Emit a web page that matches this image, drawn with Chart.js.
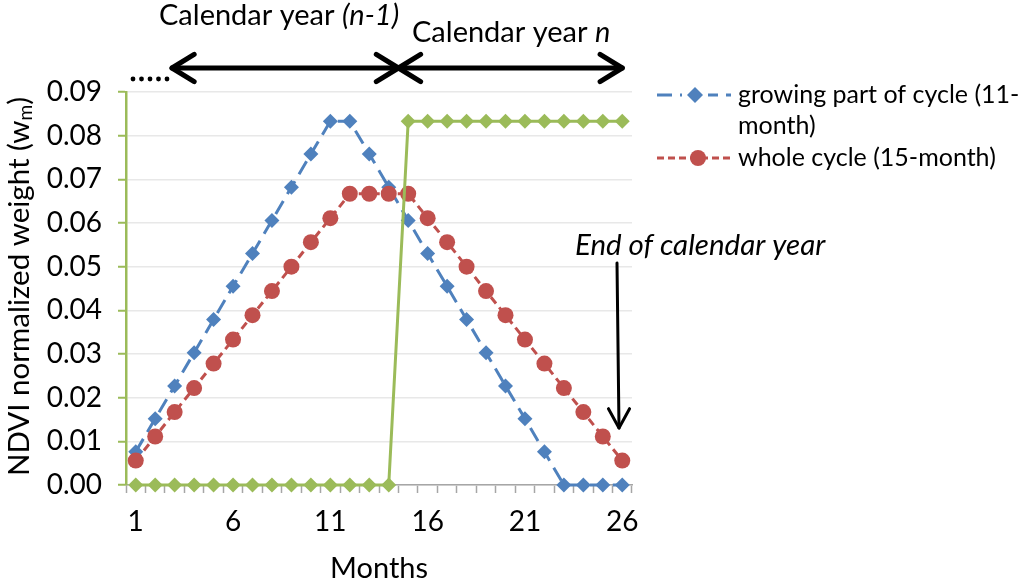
<!DOCTYPE html>
<html>
<head>
<meta charset="utf-8">
<script src="https://cdn.jsdelivr.net/npm/chart.js@4/dist/chart.umd.min.js"></script>
<style>
html, body { margin: 0; padding: 0; background: #fff; }
</style>
</head>
<body>
<canvas id="chart" width="1024" height="583"></canvas>
<script>
const months = ['1','2','3','4','5','6','7','8','9','10','11','12','13','14','15','16','17','18','19','20','21','22','23','24','25','26'];
const growingCycle = [0.0076, 0.0152, 0.0227, 0.0303, 0.0379, 0.0455, 0.0530, 0.0606, 0.0682, 0.0758, 0.0833, 0.0833, 0.0758, 0.0682, 0.0606, 0.0530, 0.0455, 0.0379, 0.0303, 0.0227, 0.0152, 0.0076, 0, 0, 0, 0];
const wholeCycle = [0.0056, 0.0111, 0.0167, 0.0222, 0.0278, 0.0333, 0.0389, 0.0444, 0.0500, 0.0556, 0.0611, 0.0667, 0.0667, 0.0667, 0.0667, 0.0611, 0.0556, 0.0500, 0.0444, 0.0389, 0.0333, 0.0278, 0.0222, 0.0167, 0.0111, 0.0056];
const calendarYear = [0, 0, 0, 0, 0, 0, 0, 0, 0, 0, 0, 0, 0, 0, 0.0833, 0.0833, 0.0833, 0.0833, 0.0833, 0.0833, 0.0833, 0.0833, 0.0833, 0.0833, 0.0833, 0.0833];
const legendLabels = [['growing part of cycle (11-', 'month)'], ['whole cycle (15-month)']];

const FONT = 'Lato, "Open Sans", sans-serif';
const BLUE = '#4F81BD', RED = '#C0504D', GREEN = '#9BBB59';
Chart.defaults.font.family = FONT;
Chart.defaults.color = '#000';

function arrowHead(ctx, x, y, angle, len, spread) {
    ctx.beginPath();
    ctx.moveTo(x + len * Math.cos(angle + spread), y + len * Math.sin(angle + spread));
    ctx.lineTo(x, y);
    ctx.lineTo(x + len * Math.cos(angle - spread), y + len * Math.sin(angle - spread));
    ctx.stroke();
}

// titles, legend and the calendar-year notes
const extras = {
    id: 'extras',
    afterDraw(chart) {
        const ctx = chart.ctx;
        const area = chart.chartArea;
        const xs = chart.scales.x;
        ctx.save();
        ctx.fillStyle = '#000';
        ctx.strokeStyle = '#000';
        ctx.lineCap = 'round';
        ctx.lineJoin = 'round';

        // y title with subscript
        ctx.save();
        ctx.translate(19, (area.top + area.bottom) / 2 - 2);
        ctx.rotate(-Math.PI / 2);
        ctx.textBaseline = 'middle';
        const main = 'NDVI normalized weight (w';
        ctx.font = '29.5px ' + FONT;
        const w1 = ctx.measureText(main).width;
        ctx.font = '19px ' + FONT;
        const w2 = ctx.measureText('m').width;
        ctx.font = '29.5px ' + FONT;
        const w3 = ctx.measureText(')').width;
        let sx = -(w1 + w2 + w3) / 2;
        ctx.textAlign = 'left';
        ctx.fillText(main, sx, 0);
        ctx.font = '19px ' + FONT;
        ctx.fillText('m', sx + w1, 7);
        ctx.font = '29.5px ' + FONT;
        ctx.fillText(')', sx + w1 + w2, 0);
        ctx.restore();

        // x title
        ctx.font = '29px ' + FONT;
        ctx.textAlign = 'center';
        ctx.textBaseline = 'middle';
        ctx.fillText('Months', (area.left + area.right) / 2, 569);

        // calendar year labels
        ctx.textAlign = 'left';
        ctx.font = '29px ' + FONT;
        let t = 'Calendar year ';
        ctx.fillText(t, 159, 16);
        let tw = ctx.measureText(t).width;
        ctx.font = 'italic 29px ' + FONT;
        ctx.fillText('(n-1)', 159 + tw, 16);
        ctx.font = '29px ' + FONT;
        ctx.fillText(t, 412, 33);
        ctx.font = 'italic 29px ' + FONT;
        ctx.fillText('n', 412 + tw, 33);

        // arrows
        const xl = 172;
        const xm = (xs.getPixelForValue(13) + xs.getPixelForValue(14)) / 2;
        const xr = xs.getPixelForValue(25);
        ctx.lineWidth = 5;
        ctx.beginPath();
        ctx.moveTo(xl, 68);
        ctx.lineTo(xr, 68);
        ctx.stroke();
        arrowHead(ctx, xl, 68, 0, 26, 0.55);
        arrowHead(ctx, xm, 68, Math.PI, 26, 0.55);
        arrowHead(ctx, xm, 68, 0, 26, 0.55);
        arrowHead(ctx, xr, 68, Math.PI, 26, 0.55);

        // dots
        for (let i = 0; i < 5; i++) {
            ctx.beginPath();
            ctx.arc(133 + i * 8.5, 79, 2.4, 0, Math.PI * 2);
            ctx.fill();
        }

        // end of calendar year
        ctx.font = 'italic 29.5px ' + FONT;
        ctx.textAlign = 'left';
        ctx.fillText('End of calendar year', 575, 245);
        ctx.lineWidth = 3;
        ctx.beginPath();
        ctx.moveTo(617, 263);
        ctx.lineTo(619, 428);
        ctx.stroke();
        arrowHead(ctx, 619, 428, -Math.PI / 2, 22, 0.5);

        // legend
        ctx.lineCap = 'butt';
        ctx.font = '25px ' + FONT;
        ctx.textAlign = 'left';
        ctx.textBaseline = 'middle';
        ctx.fillText(legendLabels[0][0], 738, 95);
        ctx.fillText(legendLabels[0][1], 738, 126);
        ctx.fillText(legendLabels[1][0], 738, 158);
        ctx.lineWidth = 3;
        ctx.strokeStyle = BLUE;
        ctx.setLineDash([15, 8]);
        ctx.beginPath(); ctx.moveTo(657, 95); ctx.lineTo(731, 95); ctx.stroke();
        ctx.strokeStyle = RED;
        ctx.setLineDash([7, 4]);
        ctx.beginPath(); ctx.moveTo(657, 158); ctx.lineTo(731, 158); ctx.stroke();
        ctx.setLineDash([]);
        ctx.fillStyle = '#fff';
        ctx.fillRect(682, 85, 26, 20);
        ctx.fillStyle = BLUE;
        ctx.beginPath();
        ctx.moveTo(695, 87); ctx.lineTo(703, 95); ctx.lineTo(695, 103); ctx.lineTo(687, 95);
        ctx.closePath(); ctx.fill();
        ctx.fillStyle = RED;
        ctx.beginPath(); ctx.arc(698, 158, 8, 0, Math.PI * 2); ctx.fill();
        ctx.restore();
    }
};

new Chart(document.getElementById('chart'), {
    type: 'line',
    data: {
        labels: months,
        datasets: [
            {
                label: 'growing part of cycle (11-month)',
                data: growingCycle,
                borderColor: BLUE,
                backgroundColor: BLUE,
                borderWidth: 3,
                borderDash: [15, 8],
                pointStyle: 'rectRot',
                pointRadius: 7.5,
                pointHoverRadius: 7.5,
                pointBorderWidth: 0,
                tension: 0,
                clip: false,
                order: 3
            },
            {
                label: 'whole cycle (15-month)',
                data: wholeCycle,
                borderColor: RED,
                backgroundColor: RED,
                borderWidth: 3,
                borderDash: [8, 5],
                pointStyle: 'circle',
                pointRadius: 8,
                pointHoverRadius: 8,
                pointBorderWidth: 0,
                tension: 0,
                clip: false,
                order: 2
            },
            {
                label: 'calendar year',
                data: calendarYear,
                borderColor: GREEN,
                backgroundColor: GREEN,
                borderWidth: 3,
                pointStyle: 'rectRot',
                pointRadius: 7.5,
                pointHoverRadius: 7.5,
                pointBorderWidth: 0,
                tension: 0,
                clip: false,
                order: 1
            }
        ]
    },
    options: {
        responsive: false,
        animation: false,
        layout: { padding: { left: 0, right: 392, top: 92, bottom: 0 } },
        plugins: {
            legend: { display: false },
            tooltip: { enabled: false }
        },
        scales: {
            x: {
                offset: true,
                grid: {
                    offset: true,
                    drawOnChartArea: false,
                    tickColor: '#a6a6a6',
                    tickLength: 8,
                    tickWidth: 1.5
                },
                border: { color: '#a6a6a6', width: 1.5 },
                ticks: {
                    autoSkip: false,
                    maxRotation: 0,
                    padding: 12,
                    font: { size: 28 },
                    callback: function (value, index) {
                        return index % 5 === 0 ? this.getLabelForValue(value) : '';
                    }
                },
                afterFit: (scale) => { scale.height = 98; }
            },
            y: {
                min: 0,
                max: 0.09,
                ticks: {
                    stepSize: 0.01,
                    padding: 16,
                    font: { size: 28 },
                    callback: (v) => v.toFixed(2)
                },
                grid: {
                    color: '#e8e8e8',
                    lineWidth: 1.5,
                    tickColor: GREEN,
                    tickLength: 8,
                    tickWidth: 2
                },
                border: { color: GREEN, width: 2.5 },
                afterFit: (scale) => { scale.width = 126; }
            }
        }
    },
    plugins: [extras]
});
</script>
</body>
</html>
